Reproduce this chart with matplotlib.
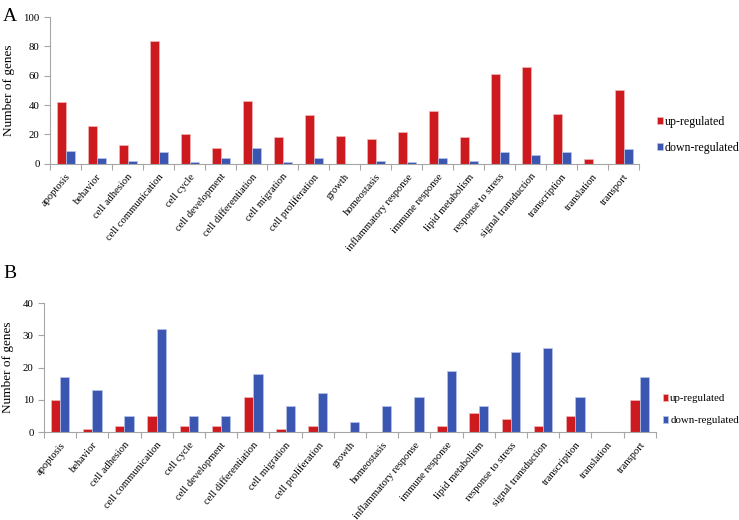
import numpy as np
import matplotlib.pyplot as plt
from matplotlib.ticker import FixedLocator, NullFormatter

plt.rcParams['font.family'] = ['Liberation Serif', 'DejaVu Serif']

categories = ["apoptosis", "behavior", "cell adhesion", "cell communication", "cell cycle",
              "cell development", "cell differentiation", "cell migration", "cell proliferation",
              "growth", "homeostasis", "inflammatory response", "immune response",
              "lipid metabolism", "response to stress", "signal transduction", "transcription",
              "translation", "transport"]

up_a = [42, 26, 13, 84, 20, 11, 43, 18, 33, 19, 17, 22, 36, 18, 61, 66, 34, 3, 50]
down_a = [9, 4, 2, 8, 1, 4, 11, 1, 4, 0, 2, 1, 4, 2, 8, 6, 8, 0, 10]

up_b = [10, 1, 2, 5, 2, 2, 11, 1, 2, 0, 0, 0, 2, 6, 4, 2, 5, 0, 10]
down_b = [17, 13, 5, 32, 5, 5, 18, 8, 12, 3, 8, 11, 19, 8, 25, 26, 11, 0, 17]

red = "#CC1A1F"
blue = "#3A56B0"
spine_col = "#A6A6A6"

fig = plt.figure(figsize=(7.39, 5.2), dpi=100)


def panel(rect, up, down, ymax, ystep, leg_pos, leg_size):
    ax = fig.add_axes(rect)
    x = np.arange(len(categories))
    w = 0.29
    ax.bar(x - w / 2, up, w, color=red, edgecolor="#F2B8B8", linewidth=0.5, label="up-regulated")
    ax.bar(x + w / 2, down, w, color=blue, edgecolor="#B8C6EC", linewidth=0.5, label="down-regulated")
    ax.set_xlim(-0.5, len(categories) - 0.5)
    ax.set_ylim(0, ymax)
    ax.set_yticks(np.arange(0, ymax + 1, ystep))
    ax.set_xticks(x)
    ax.set_xticklabels(categories, rotation=50, ha="right", rotation_mode="anchor", fontsize=7.6)
    ax.tick_params(axis="x", which="major", length=0, pad=6)
    ax.xaxis.set_minor_locator(FixedLocator(np.arange(-0.5, len(categories), 1.0)))
    ax.xaxis.set_minor_formatter(NullFormatter())
    ax.tick_params(axis="x", which="minor", length=4, color=spine_col, width=0.8)
    ax.tick_params(axis="y", length=4, color=spine_col, width=0.8, labelsize=7.8)
    for s in ["top", "right"]:
        ax.spines[s].set_visible(False)
    for s in ["left", "bottom"]:
        ax.spines[s].set_color(spine_col)
        ax.spines[s].set_linewidth(0.8)
    ax.set_ylabel("Number of genes", fontsize=9.5, labelpad=6)
    ax.legend(loc="upper left", bbox_to_anchor=leg_pos, bbox_transform=fig.transFigure,
              frameon=False, handlelength=0.5, handleheight=0.5, handletextpad=0.2,
              labelspacing=1.2, fontsize=leg_size, borderaxespad=0)
    return ax


panel([0.0677, 0.685, 0.797, 0.282], up_a, down_a, 100, 20, (0.882, 0.787), 8.6)
panel([0.0595, 0.169, 0.828, 0.248], up_b, down_b, 40, 10, (0.891, 0.250), 7.8)

fig.text(0.004, 0.985, "A", fontsize=14, va="top")
fig.text(0.004, 0.49, "B", fontsize=14, va="top")

fig.savefig("out.png", dpi=100)
